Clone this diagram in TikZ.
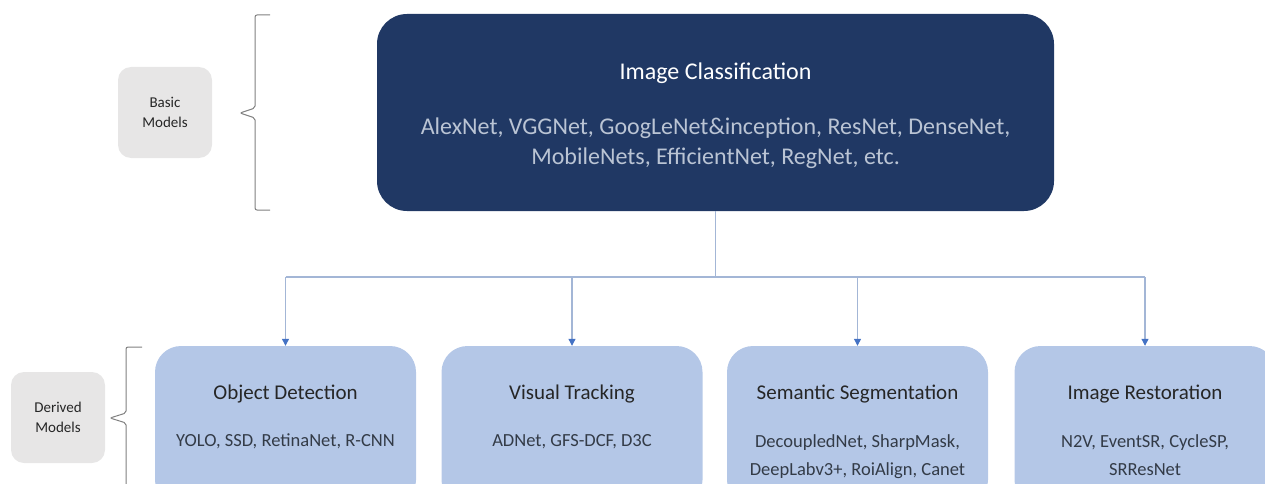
\documentclass[tikz,border=0pt]{standalone}
\usepackage{fontspec}
\setmainfont{Carlito}
\usetikzlibrary{arrows.meta}
\definecolor{navy}{HTML}{203864}
\definecolor{listtext}{HTML}{BAC4D4}
\definecolor{paleblue}{HTML}{B4C7E7}
\definecolor{taggray}{HTML}{E7E6E6}
\definecolor{ink}{HTML}{262626}
\definecolor{subink}{HTML}{333B47}
\definecolor{linkline}{HTML}{A3B6D6}
\definecolor{tipblue}{HTML}{4472C4}
\definecolor{bracegray}{HTML}{808080}
\begin{document}
\begin{tikzpicture}[x=1pt,y=-1pt,
  tag/.style={fill=taggray, rounded corners=13pt, minimum width=94pt, minimum height=91pt,
    inner sep=0pt, align=center, text=ink, font=\fontsize{15}{20}\selectfont},
  rootbox/.style={fill=navy, rounded corners=30pt, minimum width=677pt, minimum height=197pt, inner sep=0pt},
  taskbox/.style={fill=paleblue, rounded corners=26pt, minimum width=261pt, minimum height=160pt, inner sep=0pt},
  roottitle/.style={anchor=base, text=white, font=\fontsize{24}{30}\selectfont},
  rootlist/.style={text=listtext, align=center, inner sep=0pt, font=\fontsize{24}{30}\selectfont},
  tasktitle/.style={anchor=base, text=ink, font=\fontsize{21}{26}\selectfont},
  tasklist/.style={anchor=north, text=subink, align=center, inner sep=0pt, font=\fontsize{18.5}{28}\selectfont},
  link/.style={draw=linkline, line width=1.1pt},
  linkarrow/.style={link, -{Triangle[length=7pt, width=7pt, color=tipblue]}},
  bracket/.style={draw=bracegray, line width=1pt, rounded corners=2pt}
]
\useasboundingbox (0,0) rectangle (1265,484);
\clip (0,0) rectangle (1265,484);

% side tags
\node[tag] (basic) at (165,112.5) {Basic\\Models};
\node[tag] (derived) at (58,417.5) {Derived\\Models};

% braces grouping the two levels
\draw[bracket] (270,15) -- (255,15) -- (255,108) -- (240,113) -- (255,118) -- (255,210) -- (270,210);
\draw[bracket] (142,347) -- (126,347) -- (126,413) -- (110,418) -- (126,423) -- (126,500);

% root level
\node[rootbox] (cls) at (715.5,112.5) {};
\node[roottitle] (clsT) at (715.5,80) {Image Classification};
\node[rootlist, anchor=north] (clsL) at (715.5,118) {AlexNet, VGGNet, GoogLeNet\&inception, ResNet, DenseNet,\\MobileNets, EfficientNet, RegNet, etc.};

% derived tasks
\node[taskbox] (det) at (285.5,426) {};
\node[taskbox] (trk) at (572,426) {};
\node[taskbox] (seg) at (857.5,426) {};
\node[taskbox] (res) at (1145,426) {};

\node[tasktitle] (detT) at (det.center |- 0,399) {Object Detection};
\node[tasktitle] (trkT) at (trk.center |- 0,399) {Visual Tracking};
\node[tasktitle] (segT) at (seg.center |- 0,399) {Semantic Segmentation};
\node[tasktitle] (resT) at (res.center |- 0,399) {Image Restoration};

\node[tasklist] (detL) at (det.center |- 0,434) {YOLO, SSD, RetinaNet, R-CNN};
\node[tasklist] (trkL) at (trk.center |- 0,434) {ADNet, GFS-DCF, D3C};
\node[tasklist] (segL) at (seg.center |- 0,434) {DecoupledNet, SharpMask,\\DeepLabv3+, RoiAlign, Canet};
\node[tasklist] (resL) at (res.center |- 0,434) {N2V, EventSR, CycleSP,\\SRResNet};

% connectors
\coordinate (hub) at (cls.south |- 0,277);
\draw[link] (cls.south) -- (hub);
\draw[link] (det.north |- hub) -- (res.north |- hub);
\draw[linkarrow] (det.north |- hub) -- (det.north);
\draw[linkarrow] (trk.north |- hub) -- (trk.north);
\draw[linkarrow] (seg.north |- hub) -- (seg.north);
\draw[linkarrow] (res.north |- hub) -- (res.north);
\end{tikzpicture}
\end{document}
